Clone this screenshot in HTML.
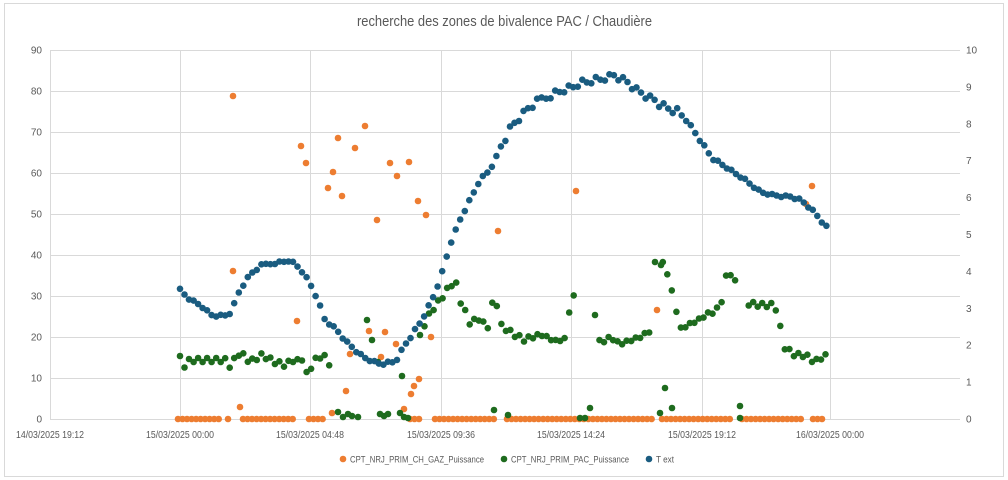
<!DOCTYPE html>
<html><head><meta charset="utf-8"><style>
html,body{margin:0;padding:0;background:#fff;}
svg{display:block;font-family:"Liberation Sans",sans-serif;}
</style></head><body>
<svg id="c" width="1008" height="480" xmlns="http://www.w3.org/2000/svg">
<rect x="4.5" y="3.5" width="999" height="473" fill="#fff" stroke="#d9d9d9"/>
<text x="357" y="26" font-size="14.5" fill="#595959" textLength="295" lengthAdjust="spacingAndGlyphs">recherche des zones de bivalence PAC / Chaudière</text>
<g id="grid" stroke="#d9d9d9" stroke-width="1"></g>
<g id="lab" font-size="10" fill="#595959"></g>
<g id="pts"></g>
<g font-size="9" fill="#595959">
<circle cx="343" cy="459" r="3.3" fill="#ed7d31"/><text x="350" y="462.5" textLength="134" lengthAdjust="spacingAndGlyphs">CPT_NRJ_PRIM_CH_GAZ_Puissance</text>
<circle cx="504" cy="459" r="3.3" fill="#1e6b1e"/><text x="511" y="462.5" textLength="118" lengthAdjust="spacingAndGlyphs">CPT_NRJ_PRIM_PAC_Puissance</text>
<circle cx="649" cy="459" r="3.3" fill="#1a5c80"/><text x="656" y="462.5" textLength="18" lengthAdjust="spacingAndGlyphs">T ext</text>
</g>
</svg>
<script>
var NS="http://www.w3.org/2000/svg";
function el(p,n,a,t){var e=document.createElementNS(NS,n);for(var k in a)e.setAttribute(k,a[k]);if(t!=null)e.textContent=t;document.getElementById(p).appendChild(e);}
for(var i=0;i<=9;i++){var y=419-i*41;el("grid","line",{x1:50,x2:960,y1:y+.5,y2:y+.5});
el("lab","text",{x:42,y:y+3.5,"text-anchor":"end"},i*10);}
for(var i=0;i<=10;i++){var y=419-i*36.9;el("lab","text",{x:966,y:y+3.5},i);}
var xs=[50,180,310,441,571,702,830],xl=["14/03/2025 19:12","15/03/2025 00:00","15/03/2025 04:48","15/03/2025 09:36","15/03/2025 14:24","15/03/2025 19:12","16/03/2025 00:00"];
xs.forEach(function(x,i){el("grid","line",{x1:x+.5,x2:x+.5,y1:50,y2:419});el("lab","text",{x:x,y:438,"text-anchor":"middle",textLength:68,lengthAdjust:"spacingAndGlyphs"},xl[i]);});
function interp(k,x){for(var i=0;i<k.length-1;i++){if(x>=k[i][0]&&x<=k[i+1][0]){var t=(x-k[i][0])/(k[i+1][0]-k[i][0]);return k[i][1]+t*(k[i+1][1]-k[i][1]);}}return k[k.length-1][1];}
function dot(x,y,c){el("pts","circle",{cx:x.toFixed(1),cy:y.toFixed(1),r:3.3,fill:c});}
var O="#ed7d31",G="#1e6b1e",B="#1a5c80";
var oz=[[178,222],[228,231],[243,293],[309,323],[410,420],[435,497],[507,656],[662,734],[742,802],[813,826]];
oz.forEach(function(r){for(var x=r[0];x<=r[1];x+=4.52)dot(x,419,O);});
[[233,96],[233,271],[240,407],[297,321],[301,146],[306,163],[328,188],[333,172],[338,138],[342,196],[346,391],[350,354],[355,148],[365,126],[369,331],[377,220],[381,357],[385,332],[390,163],[396,344],[397,176],[404,409],[409,162],[411,394],[414,386],[418,201],[419,379],[426,215],[431,337],[332,413],[498,231],[576,191],[657,310],[806,204],[812,186]].forEach(function(p){dot(p[0],p[1],O);});
var gk=[[180,358],[183,367],[190,360],[215,360],[225,360],[230,366],[240,352],[250,362],[262,355],[275,362],[285,365],[293,360],[305,358],[307,376],[315,358],[325,355],[330,365]];
for(var x=180;x<=331;x+=4.52)dot(x,interp(gk,x)+((Math.round(x)%3)-1)*2,G);
var gk2=[[420,337],[425,323],[432,310],[440,300],[447,290],[455,280],[460,300],[470,323],[480,318],[487,330],[495,292],[500,325],[515,335],[525,340],[540,333],[555,340],[565,338],[570,305],[575,292]];
for(var x=420;x<=576;x+=4.52)dot(x,interp(gk2,x)+((Math.round(x)%3)-1)*2,G);
var gk3=[[595,315],[600,345],[610,338],[620,345],[640,338],[648,333],[655,330],[658,262],[665,265],[675,305],[680,330],[690,325],[700,320],[710,313],[720,308],[728,268],[735,282],[745,303],[760,305],[775,305],[785,348],[795,355],[805,355],[815,362],[826,354]];
for(var x=595;x<=827;x+=4.52){if(x>650&&x<662)continue;if(x>738&&x<745)continue;dot(x,interp(gk3,x)+((Math.round(x)%3)-1)*2,G);}
[[367,320],[372,340],[378,362],[338,412],[343,417],[348,414],[352,416],[358,417],[380,414],[384,416],[388,414],[400,413],[404,417],[408,418],[402,376],[494,410],[508,415],[580,418],[585,418],[590,408],[660,413],[665,388],[672,408],[740,406],[740,418],[655,262],[661,265]].forEach(function(p){dot(p[0],p[1],G);});
var bk=[[180,290],[185,295],[190,300],[200,305],[212,316],[228,316],[232,310],[240,290],[250,275],[262,265],[280,262],[290,260],[300,268],[310,283],[318,300],[325,320],[335,328],[345,340],[355,350],[365,358],[380,364],[395,362],[405,345],[420,323],[432,300],[440,280],[450,245],[460,220],[470,200],[480,180],[490,170],[500,150],[510,130],[520,118],[530,108],[540,100],[550,95],[560,90],[570,87],[580,82],[600,78],[615,75],[625,80],[640,92],[655,100],[665,108],[675,110],[685,118],[700,140],[712,158],[730,170],[745,180],[760,192],[775,196],[790,197],[800,200],[812,210],[826,227]];
for(var x=180;x<=827;x+=4.52)dot(x,interp(bk,x)+((Math.round(x*7)%5)-2)*(x>500&&x<680?1.8:0.6),B);
</script>
</body></html>
